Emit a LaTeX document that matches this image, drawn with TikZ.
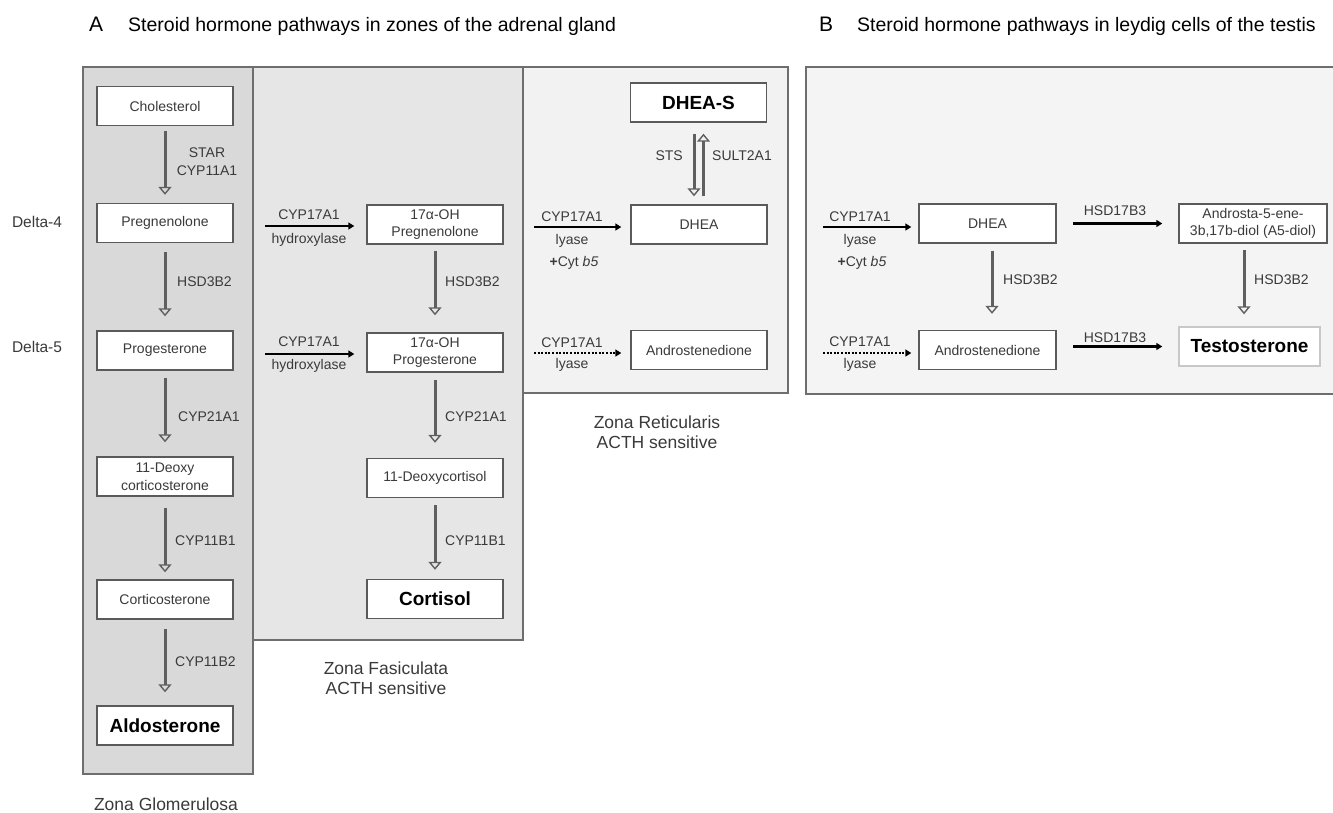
\documentclass[tikz,border=0pt]{standalone}
\usepackage{fontspec}
\setmainfont{Liberation Sans}
\usetikzlibrary{arrows.meta}
\definecolor{zglo}{HTML}{D9D9D9}
\definecolor{zfas}{HTML}{E6E6E6}
\definecolor{zret}{HTML}{F2F2F2}
\definecolor{zley}{HTML}{F4F4F4}
\definecolor{zoneline}{HTML}{6E6E6E}
\definecolor{boxline}{HTML}{5A5A5A}
\definecolor{arrgray}{HTML}{5F5F5F}
\definecolor{txtgray}{HTML}{3A3A3A}
\definecolor{lightline}{HTML}{C8C8C8}
\newcommand\fsmall{\fontsize{14}{17.5}\selectfont}
\newcommand\fbold{\fontsize{19}{22}\selectfont\bfseries}
\newcommand\fzone{\fontsize{17.5}{20}\selectfont}
\newcommand\ftitle{\fontsize{19.5}{23}\selectfont}
\newcommand\fletter{\fontsize{21}{24}\selectfont}
\newcommand\fdelta{\fontsize{15.5}{18}\selectfont}
\begin{document}
\begin{tikzpicture}[x=1pt,y=-1pt,
  zone/.style={draw=zoneline, line width=1.5pt},
  sbox/.style={draw=boxline, fill=white, line width=1.4pt, minimum width=136pt, minimum height=39pt, inner sep=1pt, align=center, font=\fsmall, text=txtgray},
  bbox/.style={sbox, font=\fbold, text=black},
  lbl/.style={font=\fsmall, text=txtgray, inner sep=0pt, align=center},
  zlbl/.style={font=\fzone, text=txtgray, inner sep=0pt, align=center},
  varr/.style={draw=arrgray, line width=3pt, -{Triangle[open, width=13pt, length=8pt, line width=1.4pt]}},
  harr/.style={draw=black, line width=2.2pt, -{Triangle[width=7pt, length=6pt]}},
  darr/.style={harr, dash pattern=on 2pt off 1.6pt},
]
\useasboundingbox (0,0) rectangle (1333,812);
\fill[white] (0,0) rectangle (1333,812);

% titles
\node[font=\fletter, anchor=base west, inner sep=0pt] (ta) at (89,31) {A};
\node[font=\ftitle, anchor=base west, inner sep=0pt] (tat) at (128,31) {Steroid hormone pathways in zones of the adrenal gland};
\node[font=\fletter, anchor=base west, inner sep=0pt] (tb) at (819,31) {B};
\node[font=\ftitle, anchor=base west, inner sep=0pt] (tbt) at (857,31) {Steroid hormone pathways in leydig cells of the testis};

% zones
\draw[zone, fill=zfas] (253,67) rectangle (523,640);
\draw[zone, fill=zret] (523,67) rectangle (788,393);
\draw[zone, fill=zglo] (83,67) rectangle (253,774);
\draw[zone, fill=zley] (806,67) rectangle (1345,394);

% delta labels
\node[font=\fdelta, text=txtgray] (d4) at (37,222) {Delta-4};
\node[font=\fdelta, text=txtgray] (d5) at (37,347) {Delta-5};

% Zona glomerulosa
\node[sbox] (chol) at (165,106) {Cholesterol};
\node[sbox] (preg) at (165,223) {Pregnenolone};
\node[sbox] (prog) at (165,350.5) {Progesterone};
\node[sbox] (doc) at (165,476.5) {11-Deoxy\\corticosterone};
\node[sbox] (cort) at (165,599.5) {Corticosterone};
\node[bbox] (aldo) at (165,725.5) {Aldosterone};

\draw[varr, shorten <=5pt, shorten >=8pt] (chol) -- (preg);
\draw[varr, shorten <=9pt, shorten >=14pt] (preg) -- (prog);
\draw[varr, shorten <=7pt, shorten >=14pt] (prog) -- (doc);
\draw[varr, shorten <=11pt, shorten >=7pt] (doc) -- (cort);
\draw[varr, shorten <=9pt, shorten >=13pt] (cort) -- (aldo);

\node[lbl] (g1) at (207,161.5) {STAR\\CYP11A1};
\node[lbl, anchor=west] (g2) at (177,282) {HSD3B2};
\node[lbl, anchor=west] (g3) at (178,417) {CYP21A1};
\node[lbl, anchor=west] (g4) at (175,541) {CYP11B1};
\node[lbl, anchor=west] (g5) at (175,662) {CYP11B2};
\node[zlbl, anchor=base] (zgl) at (166,810) {Zona Glomerulosa};

% Zona fasciculata
\node[sbox] (ohpreg) at (435,224.5) {17α-OH\\Pregnenolone};
\node[sbox] (ohprog) at (435,352.5) {17α-OH\\Progesterone};
\node[sbox] (deox) at (435,478) {11-Deoxycortisol};
\node[bbox] (cortisol) at (435,599) {Cortisol};

\draw[varr, shorten <=6pt, shorten >=17pt] (ohpreg) -- (ohprog);
\draw[varr, shorten <=7pt, shorten >=15pt] (ohprog) -- (deox);
\draw[varr, shorten <=7pt, shorten >=9pt] (deox) -- (cortisol);

\node[lbl, anchor=west] (f3) at (445,282) {HSD3B2};
\node[lbl, anchor=west] (f4) at (445,417) {CYP21A1};
\node[lbl, anchor=west] (f5) at (445,541) {CYP11B1};

\coordinate (f1s) at (265,226);
\coordinate (f2s) at (265,354);
\draw[harr, shorten >=12pt] (f1s) -- (f1s -| ohpreg.west);
\draw[harr, shorten >=12pt] (f2s) -- (f2s -| ohprog.west);
\node[lbl] (f1a) at (309,214.5) {CYP17A1};
\node[lbl] (f1b) at (309,240) {hydroxylase};
\node[lbl] (f2a) at (309,342) {CYP17A1};
\node[lbl] (f2b) at (309,366) {hydroxylase};
\node[zlbl] (zfl) at (386,678) {Zona Fasiculata\\ACTH sensitive};

% Zona reticularis
\node[bbox] (dheas) at (698.5,102.5) {DHEA-S};
\node[sbox] (dhea) at (699,224.5) {DHEA};
\node[sbox] (andro) at (699,350) {Androstenedione};

\draw[varr, shorten <=11pt, shorten >=8pt] ([xshift=-4.5pt]dheas.south) -- ([xshift=-4.5pt]dheas.south |- dhea.north);
\draw[varr, shorten <=8pt, shorten >=11pt] ([xshift=4.5pt]dhea.north) -- ([xshift=4.5pt]dhea.north |- dheas.south);
\node[lbl, anchor=east] (sts) at (683,156) {STS};
\node[lbl, anchor=west] (sult) at (712,156) {SULT2A1};

\coordinate (r1s) at (534,227);
\coordinate (r2s) at (534,353);
\draw[harr, shorten >=9pt] (r1s) -- (r1s -| dhea.west);
\draw[darr, shorten >=9pt] (r2s) -- (r2s -| andro.west);
\node[lbl] (r1a) at (572,216.5) {CYP17A1};
\node[lbl] (r1b) at (572,241) {lyase};
\node[lbl] (r1c) at (574,263) {\textbf{+}Cyt \textit{b5}};
\node[lbl] (r2a) at (572,342.5) {CYP17A1};
\node[lbl] (r2b) at (572,365) {lyase};
\node[zlbl] (zrl) at (657,432.5) {Zona Reticularis\\ACTH sensitive};

% Leydig cells
\node[sbox, minimum width=137pt] (bdhea) at (987.5,223.5) {DHEA};
\node[sbox, minimum width=137pt] (bandro) at (987.5,350) {Androstenedione};
\node[sbox, minimum width=148pt] (adiol) at (1253,223.5) {Androsta-5-ene-\\3b,17b-diol (A5-diol)};
\node[bbox, draw=lightline, minimum width=141pt] (testo) at (1249.5,346.5) {Testosterone};

\draw[varr, shorten <=7pt, shorten >=16pt] ([xshift=4.5pt]bdhea.south) -- ([xshift=4.5pt]bdhea.south |- bandro.north);
\draw[varr, shorten <=6pt, shorten >=12pt] ([xshift=-9pt]adiol.south) -- ([xshift=-9pt]adiol.south |- testo.north);
\node[lbl, anchor=west] (b3) at (1003,280) {HSD3B2};
\node[lbl, anchor=west] (b4) at (1254,280) {HSD3B2};

\coordinate (b1s) at (823,227);
\coordinate (b2s) at (823,353);
\draw[harr, shorten >=7pt] (b1s) -- (b1s -| bdhea.west);
\draw[darr, shorten >=7pt] (b2s) -- (b2s -| bandro.west);
\node[lbl] (b1a) at (860,216.5) {CYP17A1};
\node[lbl] (b1b) at (860,241) {lyase};
\node[lbl] (b1c) at (862,263) {\textbf{+}Cyt \textit{b5}};
\node[lbl] (b2a) at (860,342) {CYP17A1};
\node[lbl] (b2b) at (860,365) {lyase};

\draw[harr, shorten <=16.5pt, shorten >=16pt] (bdhea.east) -- (bdhea.east -| adiol.west);
\draw[harr, shorten <=16.5pt, shorten >=16pt] (bandro.east |- testo.west) -- (testo.west);
\node[lbl] (b5) at (1115,210.5) {HSD17B3};
\node[lbl] (b6) at (1115,338) {HSD17B3};
\end{tikzpicture}
\end{document}
